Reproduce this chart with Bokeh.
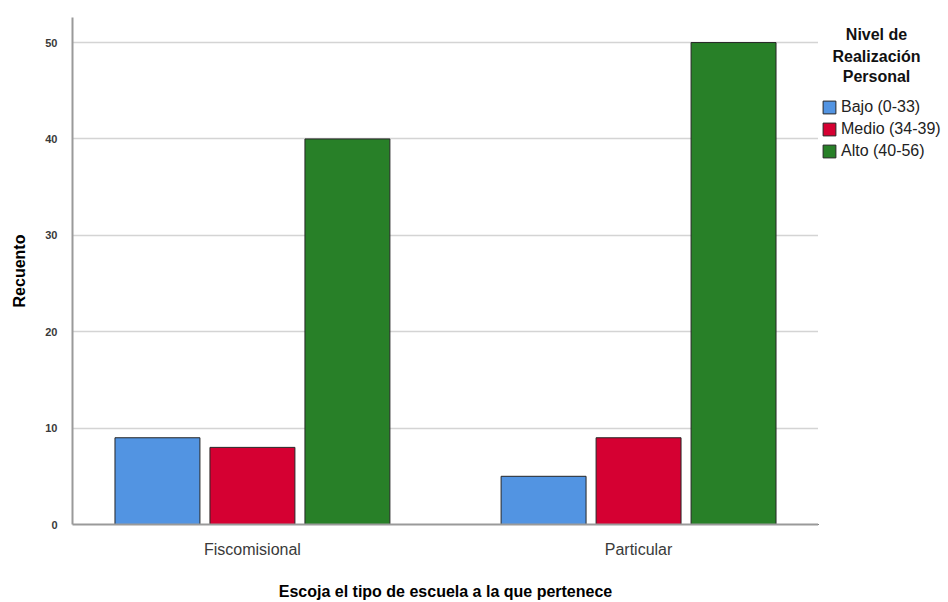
from bokeh.plotting import figure
from bokeh.layouts import row
from bokeh.models import Range1d, FixedTicker, Legend, LegendItem, Label, ColumnDataSource
from bokeh.embed import file_html
from bokeh.resources import INLINE

categories = ["Fiscomisional", "Particular"]
levels = ["Bajo (0-33)", "Medio (34-39)", "Alto (40-56)"]
bajo = [9, 5]
medio = [8, 9]
alto = [40, 50]
colors = ["#5294E2", "#D50032", "#288028"]
yticks = [0, 10, 20, 30, 40, 50]
legend_title = ["Nivel de", "Realización", "Personal"]

FONT = "Liberation Sans"

p = figure(width=818, height=602, output_backend="svg", toolbar_location=None,
           x_range=Range1d(0.034, 1.966), y_range=Range1d(0, 52.6),
           min_border_left=72, min_border_right=0, min_border_top=17, min_border_bottom=71)
p.outline_line_color = None
p.background_fill_color = "white"

centers = [0.5, 1.5]
offsets = [-0.246, 0.0, 0.246]
bw = 0.22
for vals, off, col in zip([bajo, medio, alto], offsets, colors):
    src = ColumnDataSource(dict(x=[c + off for c in centers], top=vals))
    p.vbar(x="x", top="top", width=bw, source=src, fill_color=col,
           line_color="#262626", line_width=1)

p.xaxis.ticker = FixedTicker(ticks=centers)
p.xaxis.major_label_overrides = {0.5: categories[0], 1.5: categories[1]}
p.yaxis.ticker = FixedTicker(ticks=yticks)

for ax in (p.xaxis[0], p.yaxis[0]):
    ax.axis_line_color = "#9a9a9a"
    ax.axis_line_width = 2
    ax.major_tick_line_color = None
    ax.minor_tick_line_color = None
    ax.axis_label_text_font = FONT
    ax.axis_label_text_font_style = "bold"
    ax.axis_label_text_font_size = "16px"
    ax.axis_label_text_color = "#000000"
    ax.major_label_text_font = FONT

p.xaxis.major_label_text_font_size = "16px"
p.xaxis.major_label_text_color = "#3a3a3a"
p.xaxis.major_label_standoff = 10
p.xaxis.axis_label = "Escoja el tipo de escuela a la que pertenece"
p.xaxis.axis_label_standoff = 22

p.yaxis.major_label_text_font_size = "11px"
p.yaxis.major_label_text_color = "#3a3a3a"
p.yaxis.major_label_text_font_style = "bold"
p.yaxis.major_label_standoff = 9
p.yaxis.axis_label = "Recuento"
p.yaxis.axis_label_standoff = 14

p.xgrid.grid_line_color = None
p.ygrid.grid_line_color = "#d4d4d4"
p.ygrid.grid_line_width = 1.5

# side panel holding the legend (frame aligned with main frame: 17..531 px)
side = figure(width=130, height=602, output_backend="svg", toolbar_location=None,
              x_range=Range1d(0, 130), y_range=Range1d(71, 585),
              min_border_left=0, min_border_right=0, min_border_top=17, min_border_bottom=71)
side.axis.visible = False
side.grid.visible = False
side.outline_line_color = None

items = []
for lab, col in zip(levels, colors):
    # proxy glyph placed outside the visible range, only used for the legend swatch
    r = side.vbar(x=[-50], top=[71], bottom=[71], width=1, fill_color=col,
                  line_color="#262626", line_width=1)
    items.append(LegendItem(label=lab, renderers=[r]))

legend = Legend(items=items, location=(3, 364), orientation="vertical")
legend.background_fill_alpha = 0
legend.border_line_color = None
legend.label_text_font = FONT
legend.label_text_font_size = "16px"
legend.label_text_color = "#222222"
legend.glyph_width = 16
legend.glyph_height = 16
legend.label_standoff = 4
legend.spacing = 4
legend.padding = 0
legend.margin = 0
legend.label_height = 16
side.add_layout(legend)

for txt, yv in zip(legend_title, [568, 545, 525]):
    side.add_layout(Label(x=58, y=yv, text=txt, text_align="center", text_baseline="middle",
                          text_font=FONT, text_font_style="bold", text_font_size="16px",
                          text_color="#111111"))

layout = row(p, side)
open("out.html", "w").write(file_html(layout, INLINE))
